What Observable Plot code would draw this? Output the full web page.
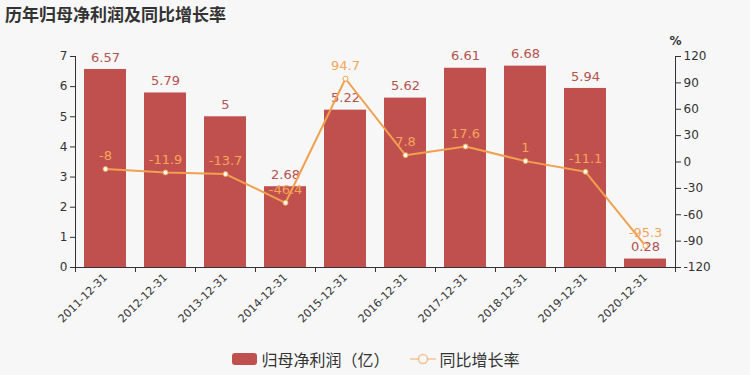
<!DOCTYPE html>
<html><head><meta charset="utf-8">
<script src="https://cdn.jsdelivr.net/npm/d3@7"></script>
<script src="https://cdn.jsdelivr.net/npm/@observablehq/plot@0.6"></script>
<style>
html,body{margin:0;padding:0;background:#f7f7f7;}
body{width:750px;height:375px;overflow:hidden;font-family:"DejaVu Sans","Noto Sans CJK SC",sans-serif;color:#333;}
#title{height:28px;line-height:28px;padding-left:5px;font-size:17px;font-weight:bold;color:#333;font-family:"Noto Sans CJK SC",sans-serif;}
#chart svg{display:block;}
#legend{height:32px;display:flex;align-items:center;justify-content:center;font-family:"Noto Sans CJK SC",sans-serif;font-size:16px;color:#333;padding-left:2px;}
#legend .item{display:flex;align-items:center;margin:0 10px;}
#legend svg{margin-right:4px;}
</style></head>
<body>
<div id="title">历年归母净利润及同比增长率</div>
<div id="chart"></div>
<div id="legend"></div>
<script>
const years = ["2011-12-31","2012-12-31","2013-12-31","2014-12-31","2015-12-31","2016-12-31","2017-12-31","2018-12-31","2019-12-31","2020-12-31"];
const profit = [6.57,5.79,5,2.68,5.22,5.62,6.61,6.68,5.94,0.28];
const growth = [-8,-11.9,-13.7,-46.4,94.7,7.8,17.6,1,-11.1,-95.3];
const leftTicks = [0,1,2,3,4,5,6,7];
const rightTicks = [-120,-90,-60,-30,0,30,60,90,120];
const seriesNames = ["归母净利润（亿）","同比增长率"];

const barColor = "#c0504d";
const lineColor = "#f0a050";
const yMax = 7, gMin = -120, gMax = 120;
const toY = g => (g - gMin) / (gMax - gMin) * yMax;

const rows = years.map((y, i) => ({year: y, profit: profit[i], growth: growth[i], gy: toY(growth[i])}));

const W = 750, H = 315, mL = 75, mR = 75, mT = 28, mB = 76;

const chart = Plot.plot({
  width: W, height: H,
  marginLeft: mL, marginRight: mR, marginTop: mT, marginBottom: mB,
  style: {background: "transparent", fontFamily: "DejaVu Sans, sans-serif", fontSize: "12px", color: "#333"},
  x: {type: "band", domain: years, paddingInner: 0.3, paddingOuter: 0.15, label: null},
  y: {domain: [0, yMax], label: null},
  marks: [
    Plot.barY(rows, {x: "year", y: "profit", fill: barColor}),
    Plot.axisY(leftTicks, {anchor: "left", tickSize: 5, tickPadding: 3, fontSize: 12, label: null, color: "#333"}),
    Plot.axisY(rightTicks.map(toY), {anchor: "right", tickSize: 5, tickPadding: 3, fontSize: 12, label: null,
      tickFormat: d => String(Math.round(d / yMax * (gMax - gMin) + gMin))}),
    Plot.axisX({tickSize: 0, tickPadding: 8, tickRotate: -45, fontSize: 11, label: null}),
    Plot.ruleY([0], {stroke: "#333", strokeWidth: 1}),
    Plot.text(rows, {x: "year", y: "profit", text: d => String(d.profit), dy: -12, fill: "#b5534f", fontSize: 13}),
    Plot.line(rows, {x: "year", y: "gy", stroke: lineColor, strokeWidth: 2}),
    Plot.dot(rows, {x: "year", y: "gy", r: 2.5, fill: "white", stroke: lineColor, strokeWidth: 1}),
    Plot.text(rows, {x: "year", y: "gy", text: d => String(d.growth), dy: -13, fill: "#f5a55a", fontSize: 13}),
    Plot.text(["%"], {frameAnchor: "top-right", dx: 0, dy: -20, textAnchor: "middle", fill: "#333", fontSize: 12, fontWeight: "bold", text: d => d})
  ]
});

// axis lines and boundary ticks drawn from the plot's own scales
const xs = chart.scale("x"), ys = chart.scale("y");
const svg = d3.select(chart);
const y0 = ys.apply(0), yTop = ys.apply(yMax);
const xL = xs.range[0], xR = xs.range[1];
const g = svg.append("g").attr("stroke", "#333").attr("stroke-width", 1);
g.append("line").attr("x1", xL + .5).attr("x2", xL + .5).attr("y1", yTop).attr("y2", y0);
g.append("line").attr("x1", xR + .5).attr("x2", xR + .5).attr("y1", yTop).attr("y2", y0);
const step = (xR - xL) / years.length;
for (let i = 0; i <= years.length; i++) {
  const x = Math.round(xL + i * step) + .5;
  g.append("line").attr("x1", x).attr("x2", x).attr("y1", y0).attr("y2", y0 + 5);
}
document.getElementById("chart").appendChild(chart);

// legend
const lg = document.getElementById("legend");
lg.innerHTML =
  `<div class="item"><svg width="25" height="14"><rect x="0" y="1" width="25" height="12" rx="3" fill="${barColor}"/></svg>${seriesNames[0]}</div>` +
  `<div class="item"><svg width="26" height="14"><line x1="0" x2="26" y1="7" y2="7" stroke="${lineColor}" stroke-opacity="0.6" stroke-width="1.5"/><circle cx="13" cy="7" r="4.5" fill="#f7f7f7" stroke="${lineColor}" stroke-opacity="0.6" stroke-width="1.5"/></svg>${seriesNames[1]}</div>`;
</script>
</body></html>
